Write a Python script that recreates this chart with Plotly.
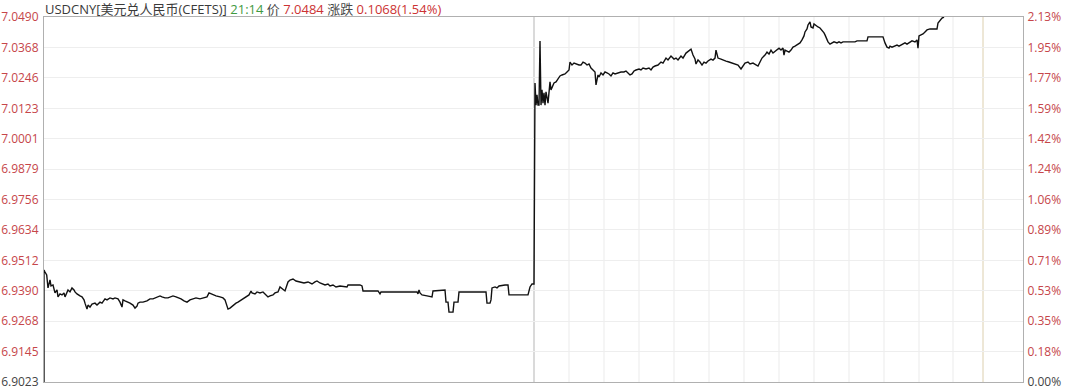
import plotly.graph_objects as go

# ---------------- data ----------------
t_idx = [0, 0, 1, 2.7, 4, 5, 6, 7, 9, 11, 13, 14, 16, 18, 20, 21, 24, 26, 28, 30, 31, 33, 34, 36, 38, 40, 41, 43, 44, 46,
         48, 51, 53, 56, 58, 61, 63, 66, 69, 71, 74, 76, 78, 79, 81, 84, 86, 89, 91, 93, 94, 96, 99, 103, 106, 109, 111,
         114, 116, 118, 121, 124, 126, 129, 132, 135, 137, 140, 143, 146, 149, 152, 156, 160, 163, 165, 167, 169, 172,
         176, 179, 181, 183, 184, 186, 188, 190, 192, 194, 196, 199, 201, 203, 205, 207, 208, 211, 213, 216, 219, 221,
         224, 226, 229, 231, 234, 236, 238, 240, 241, 244, 246, 249, 252, 256, 260, 264, 268, 271, 273, 276, 278, 281,
         284, 286, 289, 292, 296, 300, 303, 304, 316, 318, 319, 334, 335, 336, 337, 338, 368, 373, 374, 375, 376, 378,
         383, 387, 388, 389, 400, 401, 402, 404, 405, 409, 410, 414, 415, 442, 443, 446, 447, 448, 451, 453, 455, 459,
         461, 464, 465, 484, 486, 488, 489, 490,
         491, 492, 493, 494, 495, 496, 497, 498, 499, 500, 501, 502, 504, 505, 506, 507, 509, 510, 512, 514, 516, 518,
         521, 523, 525, 526, 528, 530, 532, 535, 537, 539, 541, 543, 545, 547, 549, 551, 552, 554, 555, 557, 559, 561,
         563, 565, 567, 569, 571, 574, 577, 580, 582, 584, 586, 588, 590, 592, 595, 597, 599, 602, 605, 607, 609, 611,
         614, 617, 619, 622, 624, 627, 630, 632, 634, 637, 639, 642, 645, 647, 649, 651, 652, 654, 656, 658, 660, 662,
         664, 667, 669, 671, 672, 674, 677, 679, 682, 685, 688, 690, 694, 697, 699, 701, 704, 706, 709, 712, 714, 716,
         718, 721, 723, 725, 727, 729, 731, 733, 735, 737, 739, 740, 741, 743, 745, 747, 749, 751, 753, 756, 758, 760,
         761, 763, 764, 766, 767, 769, 770, 771, 773, 774, 776, 778, 780, 781, 783, 784, 786, 788, 790, 793, 795, 797,
         799, 803, 807, 811, 813, 823, 824, 839, 841, 843, 845, 846, 848, 850, 853, 855, 858, 861, 863, 866, 868, 871,
         873, 874, 875, 877, 879, 881, 883, 886, 889, 893, 894, 896, 898, 900]

price = [6.9023, 6.9473, 6.9465, 6.9453, 6.9401, 6.9425, 6.9433, 6.9409, 6.9413, 6.9381, 6.9393, 6.9365, 6.9377, 6.9373,
         6.9381, 6.9365, 6.9393, 6.9385, 6.9401, 6.9393, 6.9385, 6.9377, 6.9373, 6.9369, 6.9365, 6.9353, 6.9340, 6.9316,
         6.9332, 6.9324, 6.9336, 6.9340, 6.9332, 6.9344, 6.9340, 6.9357, 6.9353, 6.9361, 6.9357, 6.9361, 6.9357, 6.9344,
         6.9324, 6.9353, 6.9349, 6.9344, 6.9340, 6.9332, 6.9320, 6.9328, 6.9340, 6.9344, 6.9344, 6.9349, 6.9357, 6.9357,
         6.9361, 6.9365, 6.9369, 6.9365, 6.9361, 6.9361, 6.9365, 6.9369, 6.9365, 6.9361, 6.9357, 6.9349, 6.9344, 6.9353,
         6.9357, 6.9361, 6.9357, 6.9361, 6.9365, 6.9381, 6.9377, 6.9373, 6.9369, 6.9365, 6.9361, 6.9353, 6.9324, 6.9316,
         6.9320, 6.9328, 6.9336, 6.9340, 6.9344, 6.9349, 6.9357, 6.9361, 6.9365, 6.9373, 6.9389, 6.9381, 6.9377, 6.9385,
         6.9381, 6.9385, 6.9377, 6.9365, 6.9369, 6.9373, 6.9381, 6.9385, 6.9405, 6.9397, 6.9393, 6.9389, 6.9425, 6.9433,
         6.9437, 6.9429, 6.9425, 6.9421, 6.9425, 6.9417, 6.9425, 6.9429, 6.9421, 6.9417, 6.9413, 6.9417, 6.9409, 6.9413,
         6.9405, 6.9409, 6.9405, 6.9405, 6.9413, 6.9413, 6.9409, 6.9389, 6.9389, 6.9381, 6.9377, 6.9385, 6.9385, 6.9385,
         6.9385, 6.9377, 6.9393, 6.9381, 6.9373, 6.9369, 6.9365, 6.9365, 6.9389, 6.9393, 6.9393, 6.9344, 6.9344, 6.9304,
         6.9304, 6.9344, 6.9344, 6.9385, 6.9385, 6.9340, 6.9340, 6.9353, 6.9401, 6.9405, 6.9401, 6.9409, 6.9413, 6.9413,
         6.9413, 6.9373, 6.9373, 6.9405, 6.9417, 6.9417, 6.9417,
         7.0225, 7.0136, 7.0177, 7.0136, 7.0136, 7.0394, 7.0136, 7.0197, 7.0144, 7.0185, 7.0136, 7.0189, 7.0144, 7.0189,
         7.0229, 7.0197, 7.0217, 7.0225, 7.0229, 7.0241, 7.0253, 7.0257, 7.0261, 7.0269, 7.0277, 7.0309, 7.0297, 7.0305,
         7.0301, 7.0297, 7.0297, 7.0309, 7.0305, 7.0297, 7.0301, 7.0285, 7.0277, 7.0269, 7.0217, 7.0257, 7.0249, 7.0265,
         7.0257, 7.0269, 7.0265, 7.0261, 7.0253, 7.0265, 7.0261, 7.0265, 7.0269, 7.0269, 7.0273, 7.0265, 7.0257, 7.0261,
         7.0273, 7.0277, 7.0281, 7.0277, 7.0285, 7.0281, 7.0285, 7.0277, 7.0289, 7.0293, 7.0297, 7.0309, 7.0305, 7.0325,
         7.0317, 7.0333, 7.0321, 7.0325, 7.0317, 7.0333, 7.0325, 7.0345, 7.0353, 7.0361, 7.0337, 7.0321, 7.0301, 7.0317,
         7.0309, 7.0297, 7.0309, 7.0305, 7.0313, 7.0321, 7.0317, 7.0325, 7.0357, 7.0325, 7.0321, 7.0317, 7.0313, 7.0309,
         7.0305, 7.0301, 7.0297, 7.0281, 7.0293, 7.0305, 7.0309, 7.0301, 7.0305, 7.0297, 7.0293, 7.0309, 7.0325, 7.0337,
         7.0349, 7.0341, 7.0357, 7.0345, 7.0353, 7.0361, 7.0365, 7.0357, 7.0365, 7.0337, 7.0357, 7.0353, 7.0349, 7.0357,
         7.0369, 7.0373, 7.0377, 7.0386, 7.0398, 7.0414, 7.0430, 7.0442, 7.0458, 7.0470, 7.0450, 7.0446, 7.0462, 7.0458,
         7.0454, 7.0450, 7.0446, 7.0438, 7.0426, 7.0418, 7.0402, 7.0390, 7.0381, 7.0386, 7.0390, 7.0386, 7.0390, 7.0386,
         7.0390, 7.0390, 7.0390, 7.0390, 7.0394, 7.0394, 7.0410, 7.0410, 7.0386, 7.0369, 7.0365, 7.0373, 7.0369, 7.0373,
         7.0377, 7.0373, 7.0381, 7.0386, 7.0381, 7.0390, 7.0394, 7.0390, 7.0398, 7.0365, 7.0414, 7.0418, 7.0422, 7.0430,
         7.0438, 7.0442, 7.0442, 7.0442, 7.0466, 7.0478, 7.0486, 7.0490]

tick_vals = [7.0490, 7.0368, 7.0246, 7.0123, 7.0001, 6.9879, 6.9756, 6.9634, 6.9512, 6.9390, 6.9268, 6.9145, 6.9023]
left_tick_text = ["7.0490", "7.0368", "7.0246", "7.0123", "7.0001", "6.9879", "6.9756", "6.9634", "6.9512",
                  "6.9390", "6.9268", "6.9145", "6.9023"]
right_tick_text = ["2.13%", "1.95%", "1.77%", "1.59%", "1.42%", "1.24%", "1.06%", "0.89%", "0.71%", "0.53%",
                   "0.35%", "0.18%", "0.00%"]

session_split = 490          # start of the second session
grid_times = [525, 560, 595, 630, 665, 700, 735, 770, 805, 840, 875, 909]
marker_time = 939
x_span = [0, 979]

title_parts = [("USDCNY[美元兑人民币(CFETS)]", "#3a3a3a"), ("21:14", "#3f9a3f"), ("价", "#4a4a4a"),
               ("7.0484", "#cc3333"), ("涨跌", "#4a4a4a"), ("0.1068(1.54%)", "#cc3333")]

# ---------------- styling ----------------
RED = "#c6464a"
BASE = "#444444"
FONT = "Open Sans, Noto Sans CJK SC, sans-serif"


def colored(labels, base_label):
    out = []
    for lab in labels:
        col = BASE if lab == base_label else RED
        out.append(f"<span style='color:{col}'>{lab}</span>")
    return out


fig = go.Figure()
fig.add_trace(go.Scatter(x=t_idx, y=price, mode="lines",
                         line=dict(color="#111111", width=1.4), hoverinfo="skip", showlegend=False))
# invisible companion so the right-hand percentage axis is rendered
fig.add_trace(go.Scatter(x=[t_idx[0]], y=[price[0]], yaxis="y2", mode="lines",
                         line=dict(color="rgba(0,0,0,0)"), hoverinfo="skip", showlegend=False))

shapes = []
for g in grid_times:
    shapes.append(dict(type="line", xref="x", yref="paper", x0=g, x1=g, y0=0, y1=1,
                       line=dict(color="#ebebeb", width=1), layer="below"))
shapes.append(dict(type="line", xref="x", yref="paper", x0=session_split, x1=session_split, y0=0, y1=1,
                   line=dict(color="#b5b5b5", width=1), layer="below"))
shapes.append(dict(type="line", xref="x", yref="paper", x0=marker_time, x1=marker_time, y0=0, y1=1,
                   line=dict(color="#dccfae", width=1), layer="below"))

title_html = " ".join(f"<span style='color:{c}'>{t}</span>" for t, c in title_parts)

fig.update_layout(
    width=1080, height=386,
    margin=dict(l=44, r=57, t=17, b=4),
    paper_bgcolor="white", plot_bgcolor="white",
    font=dict(family=FONT, size=12, color=BASE),
    shapes=shapes,
    xaxis=dict(range=x_span, showgrid=False, zeroline=False, showticklabels=False, automargin=False,
               showline=True, mirror=True, linecolor="#b0b0b0", linewidth=1, ticks=""),
    yaxis=dict(range=[tick_vals[-1], tick_vals[0]], tickmode="array", tickvals=tick_vals,
               ticktext=colored(left_tick_text, "6.9023"), ticklabeloverflow="allow", automargin=False,
               showgrid=True, gridcolor="#eeeeee", gridwidth=1, zeroline=False,
               showline=True, linecolor="#b0b0b0", linewidth=1, ticks="outside", ticklen=2,
               tickcolor="rgba(0,0,0,0)", tickfont=dict(family=FONT, size=12, color=RED)),
    yaxis2=dict(range=[tick_vals[-1], tick_vals[0]], overlaying="y", side="right", tickmode="array",
                tickvals=tick_vals, ticktext=colored(right_tick_text, "0.00%"), ticklabeloverflow="allow",
                automargin=False,
                showgrid=False, zeroline=False, showline=True, linecolor="#b0b0b0", linewidth=1,
                ticks="outside", ticklen=1, tickcolor="rgba(0,0,0,0)",
                tickfont=dict(family=FONT, size=12, color=RED)),
    annotations=[dict(text=title_html, xref="paper", yref="paper", x=0, y=1, xanchor="left",
                      yanchor="bottom", showarrow=False, xshift=-1, yshift=-3,
                      font=dict(family=FONT, size=13))],
)

fig.write_html("out.html")
